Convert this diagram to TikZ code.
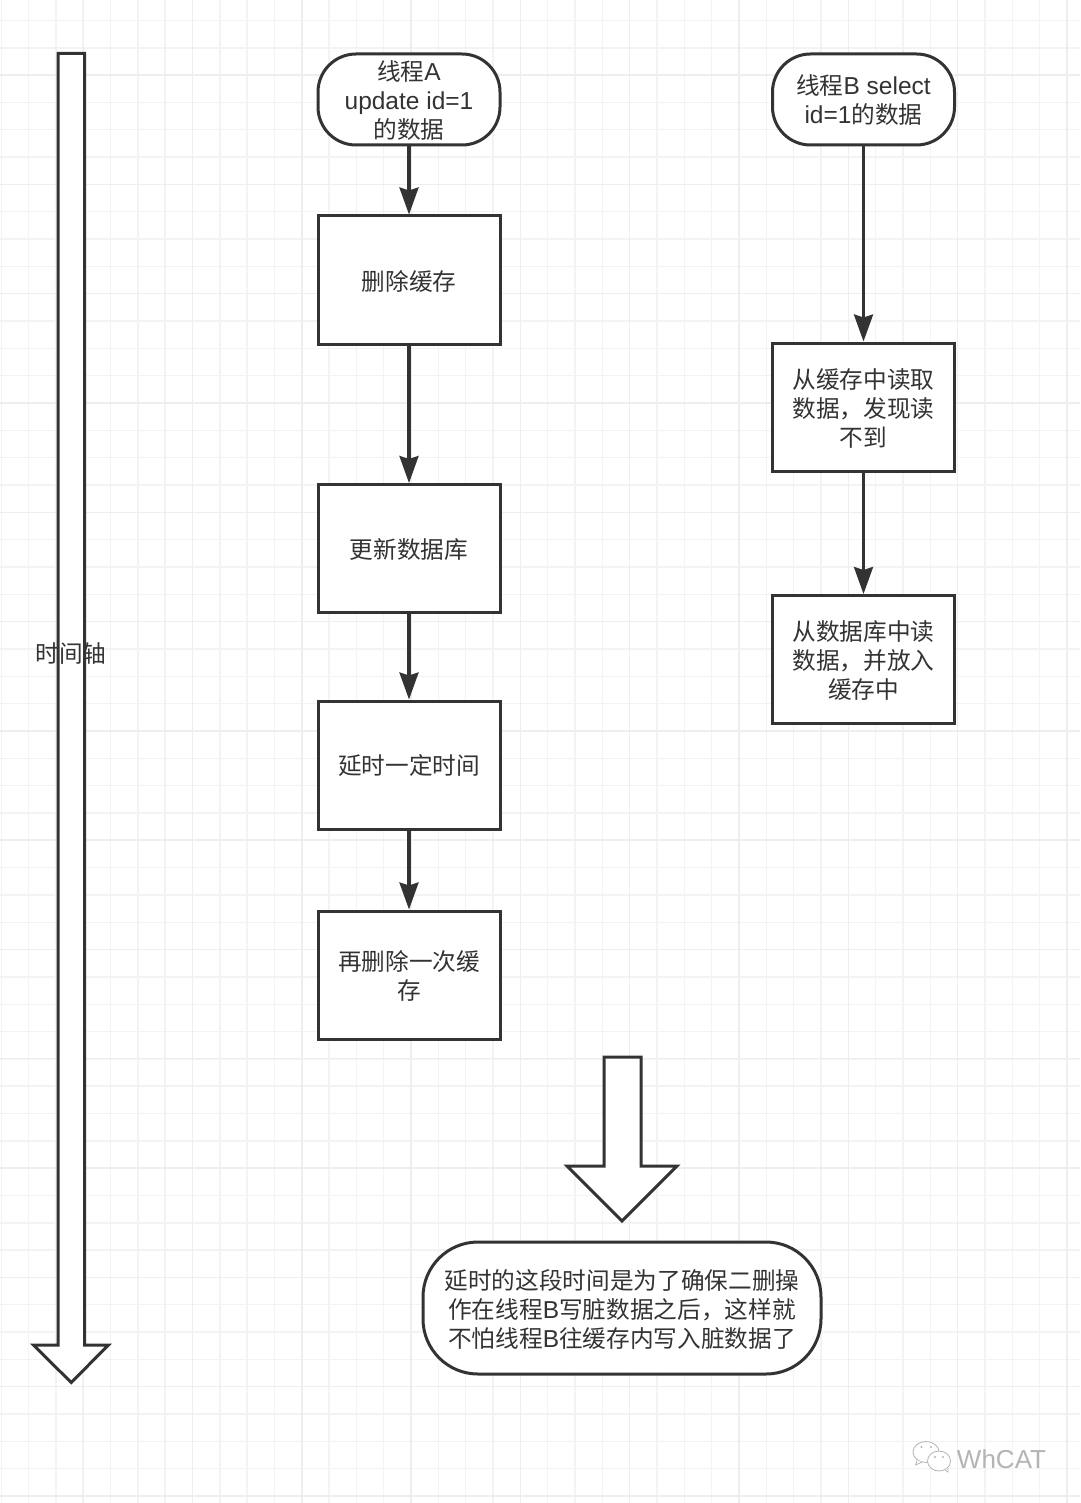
\documentclass[tikz,border=0pt]{standalone}
\usepackage{fontspec}
\setmainfont{Liberation Sans}
\newfontfamily\cjkfam[Scale=0.965]{Noto Sans CJK SC}
\newcommand{\zh}[1]{{\cjkfam #1}}
\newcommand{\Lo}[1]{\raisebox{-1pt}[\height][\depth]{#1}}
\usetikzlibrary{arrows.meta}
\definecolor{ink}{HTML}{333333}
\definecolor{gridminor}{HTML}{F3F3F3}
\definecolor{gridmajor}{HTML}{EEEEEE}
\definecolor{wmgray}{HTML}{B4B4B4}
\tikzset{
  x=1pt,y=-1pt,
  line join=round,
  flowbox/.style={draw=ink,line width=3pt,fill=white,text=ink,minimum width=182pt,minimum height=128pt,
    inner sep=0pt,align=center,font=\fontsize{24.5}{29}\selectfont},
  pill/.style={flowbox,minimum height=91pt,rounded corners=38pt},
  notepill/.style={flowbox,minimum width=398pt,minimum height=132pt,rounded corners=55pt},
  conn/.style={draw=ink,line width=3.2pt,-{Stealth[length=27pt,width=19pt,inset=3pt,fill=ink]}},
  blockarrow/.style={draw=ink,line width=3pt,fill=white},
  plaintext/.style={text=ink,inner sep=0pt,font=\fontsize{24.5}{29}\selectfont},
  gridminorline/.style={draw=gridminor,line width=1.4pt},
  gridmajorline/.style={draw=gridmajor,line width=1.4pt},
  markline/.style={draw=wmgray,line width=0.8pt,fill=white},
}
\begin{document}
\begin{tikzpicture}
\useasboundingbox (0,0) rectangle (1080,1503);
\fill[white] (0,0) rectangle (1080,1503);
% grid
\foreach \i in {0,...,39}{\draw[gridminorline] ({1.2+\i*27.325},0) -- ({1.2+\i*27.325},1503);}
\foreach \i in {0,...,55}{\draw[gridminorline] (0,{20.5+\i*27.325}) -- (1080,{20.5+\i*27.325});}
\foreach \i in {0,...,9}{\draw[gridmajorline] ({83.2+\i*109.3},0) -- ({83.2+\i*109.3},1503);}
\foreach \i in {0,...,13}{\draw[gridmajorline] (0,{75+\i*109.3}) -- (1080,{75+\i*109.3});}
% time axis
\draw[blockarrow] (58,53.5) -- (84.5,53.5) -- (84.5,1345) -- (108.5,1345) -- (71.2,1382.5) -- (33.5,1345) -- (58,1345) -- cycle;
\node[plaintext] (axislabel) at (71,654) {\zh{时间轴}};
% thread A
\node[pill] (a0) at (409,99.5) {\Lo{\zh{线程}A}\\\Lo{update id=1}\\\Lo{\zh{的数据}}};
\node[flowbox] (a1) at (409,280) {\Lo{\zh{删除缓存}}};
\node[flowbox] (a2) at (409,548.5) {\Lo{\zh{更新数据库}}};
\node[flowbox] (a3) at (409,765) {\Lo{\zh{延时一定时间}}};
\node[flowbox] (a4) at (409,975) {\Lo{\zh{再删除一次缓}}\\\Lo{\zh{存}}};
\draw[conn] (a0.south) -- (a1.north);
\draw[conn] (a1.south) -- (a2.north);
\draw[conn] (a2.south) -- (a3.north);
\draw[conn] (a3.south) -- (a4.north);
% thread B
\node[pill] (b0) at (863.5,99.5) {\Lo{\zh{线程}B select}\\\Lo{id=1\zh{的数据}}};
\node[flowbox] (b1) at (863.5,407) {\Lo{\zh{从缓存中读取}}\\\Lo{\zh{数据，发现读}}\\\Lo{\zh{不到}}};
\node[flowbox] (b2) at (863.5,659.5) {\Lo{\zh{从数据库中读}}\\\Lo{\zh{数据，并放入}}\\\Lo{\zh{缓存中}}};
\draw[conn] (b0.south) -- (b1.north);
\draw[conn] (b1.south) -- (b2.north);
% note
\draw[blockarrow] (604,1057) -- (641,1057) -- (641,1166) -- (677,1166) -- (622,1221) -- (567,1166) -- (604,1166) -- cycle;
\node[notepill] (note) at (622,1308) {\Lo{\zh{延时的这段时间是为了确保二删操}}\\\Lo{\zh{作在线程}B\zh{写脏数据之后，这样就}}\\\Lo{\zh{不怕线程}B\zh{往缓存内写入脏数据了}}};
% watermark
\draw[markline] (926,1452) ellipse (13 and 10.5);
\draw[markline] (917,1460.5) -- (915.5,1465) -- (922,1462);
\draw[markline] (939,1461) ellipse (11.5 and 10);
\draw[markline] (945,1470) -- (948,1472) -- (948,1468);
\fill[wmgray] (921.5,1447) circle (1.2) (931,1447) circle (1.2) (935,1457) circle (1.2) (943,1457) circle (1.2);
\node[text=wmgray,inner sep=0pt,font=\fontsize{26}{29}\selectfont] (wm) at (1001.5,1459) {WhCAT};
\end{tikzpicture}
\end{document}
